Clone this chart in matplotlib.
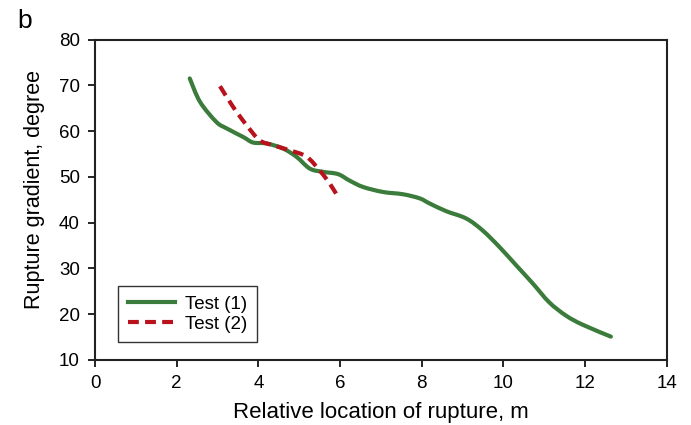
import matplotlib
matplotlib.use("Agg")
import matplotlib.pyplot as plt
from matplotlib.path import Path
from matplotlib.patches import PathPatch
from matplotlib.lines import Line2D

plt.rcParams['font.family'] = ['Liberation Sans', 'DejaVu Sans']

test1_x = [2.32, 2.57, 2.97, 3.22, 3.63, 3.87, 4.20, 4.60, 4.93, 5.26, 5.58, 5.95,
           6.23, 6.56, 7.05, 7.54, 7.95, 8.19, 8.60, 9.09, 9.49, 9.90, 10.31,
           10.72, 11.12, 11.53, 11.94, 12.63]
test1_y = [71.5, 66.4, 62.0, 60.6, 58.7, 57.5, 57.3, 56.2, 54.4, 51.8, 51.1, 50.6,
           49.2, 47.8, 46.7, 46.2, 45.3, 44.2, 42.5, 40.9, 38.3, 34.7, 30.7,
           26.7, 22.6, 19.7, 17.7, 15.1]

test2_x = [3.06, 3.38, 3.71, 4.03, 4.36, 4.77, 5.18, 5.50, 5.75, 5.95]
test2_y = [69.8, 65.3, 61.3, 58.0, 56.9, 55.8, 54.4, 51.4, 48.5, 45.6]

x_ticks = [0, 2, 4, 6, 8, 10, 12, 14]
y_ticks = [10, 20, 30, 40, 50, 60, 70, 80]

GREEN = '#3b7b3b'
RED = '#b8121c'
DASH = (0, (2.6, 1.5))


def smooth_path(xs, ys):
    """Excel-style smoothed line: cubic Bezier segments through the points."""
    pts = list(zip(xs, ys))
    n = len(pts)
    verts = [pts[0]]
    codes = [Path.MOVETO]
    for i in range(n - 1):
        p0 = pts[i - 1] if i > 0 else pts[i]
        p1 = pts[i]
        p2 = pts[i + 1]
        p3 = pts[i + 2] if i + 2 < n else pts[i + 1]
        c1 = (p1[0] + (p2[0] - p0[0]) / 6.0, p1[1] + (p2[1] - p0[1]) / 6.0)
        c2 = (p2[0] - (p3[0] - p1[0]) / 6.0, p2[1] - (p3[1] - p1[1]) / 6.0)
        verts += [c1, c2, p2]
        codes += [Path.CURVE4] * 3
    return Path(verts, codes)


fig = plt.figure(figsize=(6.91, 4.25), dpi=100)
ax = fig.add_axes([0.1375, 0.153, 0.8275, 0.754])

ax.add_patch(PathPatch(smooth_path(test1_x, test1_y), fill=False, edgecolor=GREEN,
                       lw=3, capstyle='round', joinstyle='round'))
ax.add_patch(PathPatch(smooth_path(test2_x, test2_y), fill=False, edgecolor=RED,
                       lw=3, ls=DASH))

ax.set_xlim(0, 14)
ax.set_ylim(10, 80)
ax.set_xticks(x_ticks)
ax.set_yticks(y_ticks)
ax.tick_params(direction='out', length=5, width=1.2, labelsize=13.5, pad=6)
for s in ax.spines.values():
    s.set_linewidth(1.5)
    s.set_color('#222222')

ax.set_xlabel('Relative location of rupture, m', fontsize=16, labelpad=7)
ax.set_ylabel('Rupture gradient, degree', fontsize=15.5)
ax.yaxis.set_label_coords(-0.088, 0.533)

handles = [Line2D([], [], color=GREEN, lw=3),
           Line2D([], [], color=RED, lw=3, ls=DASH)]
leg = ax.legend(handles, ['Test (1)', 'Test (2)'], loc='lower left',
                bbox_to_anchor=(0.041, 0.056), borderaxespad=0, fontsize=13.5,
                fancybox=False, framealpha=1, edgecolor='#333333',
                handlelength=2.5, borderpad=0.5, labelspacing=0.15,
                handletextpad=0.55)
leg.get_frame().set_linewidth(1.0)

fig.text(0.025, 0.935, 'b', fontsize=19)

fig.savefig('out.png', dpi=100)
